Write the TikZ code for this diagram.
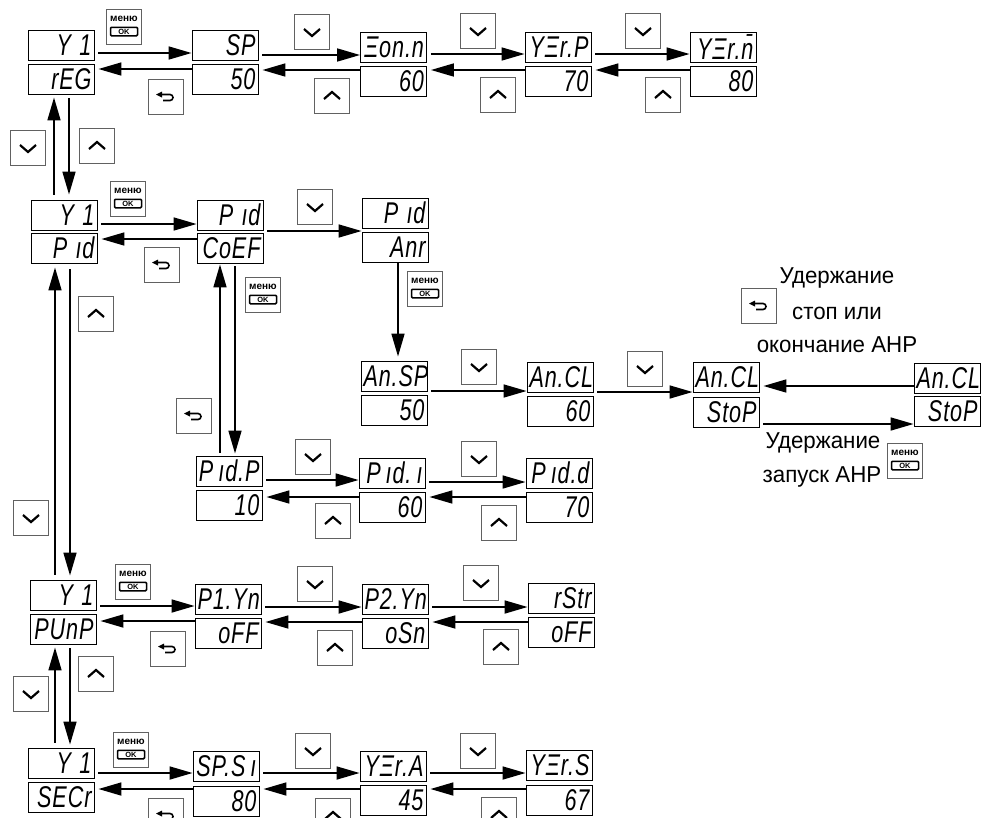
\documentclass[tikz,border=0pt]{standalone}
\usepackage{fontspec}
\setmainfont{Liberation Sans}
\newfontfamily\dispfont[FakeStretch=0.72,LetterSpace=3]{Liberation Sans}
\newfontfamily\notefont[FakeStretch=0.97]{Liberation Sans}
\usepackage{xcolor}
\usetikzlibrary{arrows.meta,positioning,calc}
\definecolor{btnline}{gray}{0.38}
\tikzset{
  disp/.style={draw=black,line width=0.9pt,fill=white,minimum width=66pt,minimum height=30pt,
    inner sep=0pt,text width=61pt,align=right,font=\dispfont\itshape\fontsize{30}{30}\selectfont},
  btn/.style={draw=btnline,line width=1.4pt,fill=white,minimum size=35pt,inner sep=0pt},
  dnbtn/.style={btn,path picture={\begin{scope}[shift={(path picture bounding box.center)}]
      \draw[black,line width=2.2pt] (-8pt,3pt) -- (0pt,-4pt) -- (8pt,3pt);\end{scope}}},
  upbtn/.style={btn,path picture={\begin{scope}[shift={(path picture bounding box.center)}]
      \draw[black,line width=2.2pt] (-8pt,-3pt) -- (0pt,4pt) -- (8pt,-3pt);\end{scope}}},
  backbtn/.style={btn,path picture={\begin{scope}[shift={(path picture bounding box.center)}]
      \fill[black] (-10pt,2.5pt) -- (-4pt,5.5pt) -- (-4pt,-0.5pt) -- cycle;
      \draw[black,line width=1.6pt] (-5pt,2.5pt) -- (4pt,2.5pt) arc[start angle=90,end angle=-90,radius=3pt] -- (-3pt,-3.5pt);\end{scope}}},
  menubtn/.style={btn,path picture={\begin{scope}[shift={(path picture bounding box.center)}]
      \node[font=\bfseries\fontsize{10}{10}\selectfont,inner sep=0pt] at (0pt,8pt) {меню};
      \node[draw=black,rounded corners=1pt,line width=1.5pt,minimum width=27pt,minimum height=8.5pt,inner sep=0pt,
        font=\bfseries\fontsize{7.5}{7.5}\selectfont] at (0pt,-4.5pt) {OK};\end{scope}}},
  flow/.style={line width=1.7pt,-{Triangle[length=23pt,width=13pt]}},
  note/.style={font=\notefont\fontsize{23}{23}\selectfont,inner sep=0pt},
}
\newcommand{\fwd}[3]{\draw[flow] ([xshift=4pt,yshift=#3]#1.east) -- ([yshift=#3]#1.east -| #2.west);}
\newcommand{\bck}[3]{\draw[flow] ([yshift=#3]#1.west) -- ([xshift=4pt,yshift=#3]#1.west -| #2.east);}
\begin{document}
\begin{tikzpicture}[x=1pt,y=-1pt]
\useasboundingbox (0,0) rectangle (982,817);
\clip (0,0) rectangle (982,817);
% regulator row
\node[disp] (a1) at (61,45) {Y\;1};
\node[disp] (a1b) at (61,79) {rEG};
\node[disp] (a2) at (225,45) {SP};
\node[disp] (a2b) at (225,79) {50};
\node[disp] (a3) at (393.5,47) {Ξon.n};
\node[disp] (a3b) at (393.5,81) {60};
\node[disp] (a4) at (558,47) {YΞr.P};
\node[disp] (a4b) at (558,81) {70};
\node[disp] (a5) at (723,47) {YΞr.n̄};
\node[disp] (a5b) at (723,81) {80};
% pid row
\node[disp] (b1) at (64,215) {Y\;1};
\node[disp] (b1b) at (64,248) {P\;ıd};
\node[disp] (b2) at (230,215) {P\;ıd};
\node[disp] (b2b) at (230,248) {CoEF};
\node[disp] (b3) at (395,213) {P\;ıd};
\node[disp] (b3b) at (395,247) {Anr};
% autotuning row
\node[disp] (c1) at (394,376) {An.SP};
\node[disp] (c1b) at (394,410) {50};
\node[disp] (c2) at (560,377) {An.CL};
\node[disp] (c2b) at (560,411) {60};
\node[disp] (c3) at (726,377) {An.CL};
\node[disp] (c3b) at (726,412) {StoP};
\node[disp] (c4) at (947,378) {An.CL};
\node[disp] (c4b) at (947,411) {StoP};
% coefficients row
\node[disp] (d1) at (229,471) {P\,ıd.P};
\node[disp] (d1b) at (229,505) {10};
\node[disp] (d2) at (392,473) {P\,ıd.\,ı};
\node[disp] (d2b) at (392,507) {60};
\node[disp] (d3) at (559,473) {P\,ıd.d};
\node[disp] (d3b) at (559,507) {70};
% pump row
\node[disp] (e1) at (63,595) {Y\;1};
\node[disp] (e1b) at (63,629) {PUnP};
\node[disp] (e2) at (228,599) {P1.Yn};
\node[disp] (e2b) at (228,633) {oFF};
\node[disp] (e3) at (395,599) {P2.Yn};
\node[disp] (e3b) at (395,633) {oSn};
\node[disp] (e4) at (561,598) {rStr};
\node[disp] (e4b) at (561,632) {oFF};
% security row
\node[disp] (f1) at (61,763) {Y\;1};
\node[disp] (f1b) at (61,797) {SECr};
\node[disp] (f2) at (226,766) {SP.S\,ı};
\node[disp] (f2b) at (226,801) {80};
\node[disp] (f3) at (393,766) {YΞr.A};
\node[disp] (f3b) at (393,800) {45};
\node[disp] (f4) at (559,765) {YΞr.S};
\node[disp] (f4b) at (559,800) {67};
% buttons
\foreach \nm/\px/\py in {m1/124/27,m2/128/199,m3/425/289,m4/263/295,m5/133/582,m6/131/750,m7/905/461}
  \node[menubtn] (\nm) at (\px,\py) {};
\foreach \nm/\px/\py in {k1/28/148,k2/312/32,k3/478/31,k4/643/31,k5/315/207,k6/31/518,k7/313/457,k8/479/459,k9/479/367,k10/645/369,k11/31/694,k12/315/584,k13/481/583,k14/313/751,k15/478/751}
  \node[dnbtn] (\nm) at (\px,\py) {};
\foreach \nm/\px/\py in {u1/97/146,u2/332/96,u3/498/95,u4/663/95,u5/96/314,u6/333/521,u7/499/523,u8/96/674,u9/335/648,u10/501/647,u11/333/816,u12/499/815}
  \node[upbtn] (\nm) at (\px,\py) {};
\foreach \nm/\px/\py in {r1/166/97,r2/162/265,r3/194/416,r4/168/649,r5/166/816,r6/759/306}
  \node[backbtn] (\nm) at (\px,\py) {};
% horizontal links
\fwd{a1}{a2}{-8pt} \bck{a2b}{a1b}{10pt}
\fwd{a2}{a3}{-10pt} \bck{a3b}{a2b}{11pt}
\fwd{a3}{a4}{-7pt} \bck{a4b}{a3b}{11pt}
\fwd{a4}{a5}{-7pt} \bck{a5b}{a4b}{11pt}
\fwd{b1}{b2}{-9pt} \bck{b2b}{b1b}{9pt}
\fwd{b2}{b3}{-16pt}
\fwd{c1}{c2}{-15pt}
\fwd{c2}{c3}{-15pt}
\bck{c4}{c3}{-8pt}
\fwd{c3b}{c4b}{-12pt}
\fwd{d1}{d2}{-9pt} \bck{d2b}{d1b}{10pt}
\fwd{d2}{d3}{-9pt} \bck{d3b}{d2b}{10pt}
\fwd{e1}{e2}{-11pt} \bck{e2b}{e1b}{12pt}
\fwd{e2}{e3}{-8pt} \bck{e3b}{e2b}{11pt}
\fwd{e3}{e4}{-8pt} \bck{e4b}{e3b}{10pt}
\fwd{f1}{f2}{-10pt} \bck{f2b}{f1b}{12pt}
\fwd{f2}{f3}{-7pt} \bck{f3b}{f2b}{11pt}
\fwd{f3}{f4}{-7pt} \bck{f4b}{f3b}{11pt}
% vertical links
\draw[flow] ([xshift=-10pt,yshift=5pt]b1.north) -- ([xshift=-10pt,yshift=-3pt]b1.north |- a1b.south);
\draw[flow] ([xshift=5pt,yshift=-4pt]b1.north |- a1b.south) -- ([xshift=5pt,yshift=5pt]b1.north);
\draw[flow] ([xshift=-8pt,yshift=5pt]e1.north) -- ([xshift=-8pt,yshift=-4pt]e1.north |- b1b.south);
\draw[flow] ([xshift=7pt,yshift=-6pt]e1.north |- b1b.south) -- ([xshift=7pt,yshift=4pt]e1.north);
\draw[flow] ([xshift=-6pt,yshift=5pt]f1.north) -- ([xshift=-6pt,yshift=-3pt]f1.north |- e1b.south);
\draw[flow] ([xshift=9pt,yshift=-4pt]f1.north |- e1b.south) -- ([xshift=9pt,yshift=3pt]f1.north);
\draw[flow] ([xshift=-9pt,yshift=3pt]d1.north) -- ([xshift=-9pt,yshift=-1pt]d1.north |- b2b.south);
\draw[flow] ([xshift=6pt,yshift=-3pt]d1.north |- b2b.south) -- ([xshift=6pt,yshift=2pt]d1.north);
\draw[flow] ([xshift=3pt]b3b.south) -- ([xshift=3pt,yshift=4pt]b3b.south |- c1.north);
% hold labels
\node[note] (hold1) at (837,278) {Удержание};
\node[note] (hold2) at (837,313) {стоп или};
\node[note] (hold3) at (837,345) {окончание АНР};
\node[note] (hold4) at (823,443) {Удержание};
\node[note] (hold5) at (822,477) {запуск АНР};
\end{tikzpicture}
\end{document}
